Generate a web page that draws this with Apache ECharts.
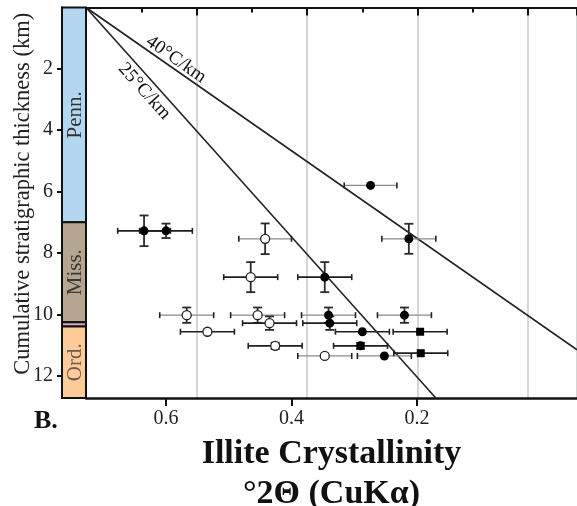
<!DOCTYPE html>
<html><head><meta charset="utf-8">
<script src="https://cdn.jsdelivr.net/npm/echarts@6/dist/echarts.min.js"></script>
<style>html,body{margin:0;padding:0;background:#fff}#c{width:577px;height:506px}</style>
</head><body><div id="c"></div>
<script>
const SERIF = "'Liberation Serif','Times New Roman',serif";

// Stratigraphic column (km)
const unitNames = ['Penn.', 'Miss.', '', 'Ord.'];
const unitTop   = [0, 7.0, 10.26, 10.40];
const unitBase  = [7.0, 10.26, 10.40, 12.73];

// Samples: [illite crystallinity °2θ, cumulative thickness km, ±IC, ±thickness, analysis set]
const filledCircles = [
  [0.635, 7.28, 0.042, 0.50, 1],
  [0.600, 7.28, 0.042, 0.235, 1],
  [0.347, 8.79, 0.043, 0.49, 1],
  [0.274, 5.80, 0.042, 0, 2],
  [0.213, 7.54, 0.043, 0.49, 2],
  [0.341, 10.03, 0.043, 0.25, 2],
  [0.339, 10.29, 0.043, 0.22, 1],
  [0.220, 10.03, 0.043, 0.25, 2],
  [0.287, 10.57, 0.043, 0, 1],
  [0.290, 11.03, 0.043, 0.10, 1],
  [0.252, 11.36, 0.043, 0, 2]
];
const openCircles = [
  [0.442, 7.54, 0.042, 0.50, 2],
  [0.465, 8.79, 0.043, 0.49, 1],
  [0.567, 10.03, 0.043, 0.25, 2],
  [0.454, 10.03, 0.043, 0.25, 2],
  [0.435, 10.29, 0.043, 0.22, 1],
  [0.534, 10.57, 0.043, 0, 1],
  [0.426, 11.03, 0.043, 0.10, 1],
  [0.347, 11.36, 0.043, 0, 2]
];
const filledSquares = [
  [0.195, 10.57, 0.043, 0, 1],
  [0.194, 11.27, 0.043, 0, 1]
];

// Geothermal gradient lines
const geotherm40 = [[0.7275, 0], [-0.055, 11.16]];
const geotherm25 = [[0.7275, 0], [0.170, 12.73]];

const xTicks = [0.6, 0.4, 0.2];
const yTicks = [2, 4, 6, 8, 10, 12];
const X_MIN = -0.055, X_MAX = 0.7275, Y_MAX = 12.73;

const unitColors = ['#b3d7f1', '#b6a68f', '#d4a3c6', '#fdca99'];
const unitText = ['#333', '#3a3a3a', '#333', '#6b5a48'];

const chart = echarts.init(document.getElementById('c'), null, {renderer: 'canvas'});

const allSamples = filledCircles.concat(openCircles, filledSquares);

const option = {
  animation: false,
  backgroundColor: '#fff',
  grid: [
    {left: 62, width: 24, top: 7.5, bottom: 108, outerBoundsMode: 'none', containLabel: false},
    {left: 86, right: 0, top: 7.5, bottom: 108, outerBoundsMode: 'none', containLabel: false}
  ],
  xAxis: [
    { // main bottom axis
      gridIndex: 1, type: 'value', min: X_MIN, max: X_MAX, inverse: true, position: 'bottom',
      axisLine: {show: true, onZero: false, lineStyle: {color: '#111', width: 2.5}},
      axisTick: {show: true, customValues: xTicks, length: 8, lineStyle: {color: '#111', width: 2}},
      axisLabel: {show: true, customValues: xTicks, margin: 11, fontSize: 20, fontFamily: SERIF, color: '#222'},
      splitLine: {show: false},
      name: 'Illite Crystallinity\n\u00b02\u0398 (CuK\u03b1)',
      nameLocation: 'middle', nameGap: 31,
      nameTextStyle: {fontSize: 34, fontWeight: 'bold', fontFamily: SERIF, color: '#111', lineHeight: 40}
    },
    { // top reference axis
      gridIndex: 1, type: 'value', min: 0, max: 4.443, interval: 1, position: 'top',
      axisLine: {show: true, onZero: false, lineStyle: {color: '#111', width: 2}},
      axisTick: {show: true, inside: true, length: 8, lineStyle: {color: '#111', width: 2}},
      minorTick: {show: true, splitNumber: 2, length: 5, lineStyle: {color: '#111', width: 2}},
      axisLabel: {show: false},
      splitLine: {show: true, lineStyle: {color: '#c8c8c8', width: 1.5}}
    },
    { // strip axis
      gridIndex: 0, type: 'value', min: 0, max: 1, show: false
    }
  ],
  yAxis: [
    {
      gridIndex: 0, type: 'value', min: 0, max: Y_MAX, inverse: true,
      axisLine: {show: true, lineStyle: {color: '#111', width: 2}},
      axisTick: {show: true, customValues: yTicks, length: 5, lineStyle: {color: '#111', width: 2}},
      axisLabel: {show: true, customValues: yTicks, margin: 9, fontSize: 20, fontFamily: SERIF, color: '#222'},
      splitLine: {show: false},
      name: 'Cumulative stratigraphic thickness (km)',
      nameLocation: 'middle', nameGap: 27, nameMoveOverlap: false,
      nameTextStyle: {fontSize: 22.5, fontFamily: SERIF, color: '#222', padding: [0, 0, 0, 18]}
    },
    {
      gridIndex: 1, type: 'value', min: 0, max: Y_MAX, inverse: true, show: false
    }
  ],
  series: [
    {
      type: 'custom', name: 'strata', xAxisIndex: 2, yAxisIndex: 0, clip: false, z: 5,
      data: unitTop.map((t, i) => [i, t, unitBase[i], unitNames[i]]),
      encode: {x: 0, y: [1, 2]},
      renderItem(params, api) {
        const i = params.dataIndex;
        const p0 = api.coord([0, api.value(1)]);
        const p1 = api.coord([1, api.value(2)]);
        const children = [{
          type: 'rect',
          shape: {x: p0[0], y: p0[1], width: p1[0] - p0[0], height: p1[1] - p0[1]},
          style: {fill: unitColors[i], stroke: '#111', lineWidth: 2}
        }];
        if (unitNames[i]) {
          children.push({
            type: 'text', x: (p0[0] + p1[0]) / 2 + 1, y: (p0[1] + p1[1]) / 2,
            rotation: Math.PI / 2,
            style: {text: unitNames[i], font: '21px ' + SERIF, fill: unitText[i], align: 'center', verticalAlign: 'middle'}
          });
        }
        return {type: 'group', children};
      }
    },
    {
      type: 'line', name: '40°C/km', xAxisIndex: 0, yAxisIndex: 1, data: geotherm40,
      symbol: 'none', lineStyle: {color: '#222', width: 1.6}, z: 3, silent: true
    },
    {
      type: 'line', name: '25°C/km', xAxisIndex: 0, yAxisIndex: 1, data: geotherm25,
      symbol: 'none', lineStyle: {color: '#222', width: 1.6}, z: 3, silent: true
    },
    {
      type: 'custom', name: 'error bars', xAxisIndex: 0, yAxisIndex: 1, z: 4,
      data: allSamples, encode: {x: 0, y: 1},
      renderItem(params, api) {
        const x = api.value(0), y = api.value(1), ex = api.value(2), ey = api.value(3), set = api.value(4);
        const a = api.coord([x + ex, y]);
        const b = api.coord([x - ex, y]);
        const hc = set === 2 ? '#8a8a8a' : '#1e1e1e';
        const hw = set === 2 ? 1.3 : 1.7;
        const ch = [
          {type: 'line', shape: {x1: a[0], y1: a[1], x2: b[0], y2: b[1]}, style: {stroke: hc, lineWidth: hw}},
          {type: 'line', shape: {x1: a[0], y1: a[1] - 3, x2: a[0], y2: a[1] + 3}, style: {stroke: '#222', lineWidth: 1.6}},
          {type: 'line', shape: {x1: b[0], y1: b[1] - 3, x2: b[0], y2: b[1] + 3}, style: {stroke: '#222', lineWidth: 1.6}}
        ];
        if (ey > 0) {
          const t = api.coord([x, y - ey]);
          const d = api.coord([x, y + ey]);
          ch.push(
            {type: 'line', shape: {x1: t[0], y1: t[1], x2: d[0], y2: d[1]}, style: {stroke: '#2a2a2a', lineWidth: 1.8}},
            {type: 'line', shape: {x1: t[0] - 4.5, y1: t[1], x2: t[0] + 4.5, y2: t[1]}, style: {stroke: '#2a2a2a', lineWidth: 1.8}},
            {type: 'line', shape: {x1: d[0] - 4.5, y1: d[1], x2: d[0] + 4.5, y2: d[1]}, style: {stroke: '#2a2a2a', lineWidth: 1.8}}
          );
        }
        return {type: 'group', children: ch};
      }
    },
    {
      type: 'scatter', name: 'filled', xAxisIndex: 0, yAxisIndex: 1, data: filledCircles, encode: {x: 0, y: 1},
      symbol: 'circle', symbolSize: 9, itemStyle: {color: '#000', opacity: 1}, z: 6
    },
    {
      type: 'scatter', name: 'open', xAxisIndex: 0, yAxisIndex: 1, data: openCircles, encode: {x: 0, y: 1},
      symbol: 'circle', symbolSize: 9, itemStyle: {color: '#fff', borderColor: '#222', borderWidth: 1.3, opacity: 1}, z: 6
    },
    {
      type: 'scatter', name: 'square', xAxisIndex: 0, yAxisIndex: 1, data: filledSquares, encode: {x: 0, y: 1},
      symbol: 'rect', symbolSize: 8, itemStyle: {color: '#000', opacity: 1}, z: 6
    }
  ]
};

chart.setOption(option);

function lineLabel(seriesIndex, seg, t, off, text) {
  const a = chart.convertToPixel({seriesIndex}, seg[0]);
  const b = chart.convertToPixel({seriesIndex}, seg[1]);
  const dx = b[0] - a[0], dy = b[1] - a[1], L = Math.hypot(dx, dy);
  const ux = dx / L, uy = dy / L;
  return {
    type: 'text', x: a[0] + dx * t + uy * off, y: a[1] + dy * t - ux * off,
    rotation: -Math.atan2(dy, dx), z: 20,
    style: {text, font: '19px ' + SERIF, fill: '#111', align: 'center', verticalAlign: 'middle'}
  };
}

chart.setOption({
  graphic: [
    lineLabel(1, geotherm40, 0.173, 9, '40\u00b0C/km'),
    lineLabel(2, geotherm25, 0.1935, -12.5, '25\u00b0C/km'),
    {type: 'text', left: 34, top: 408, z: 20,
     style: {text: 'B.', font: 'bold 26px ' + SERIF, fill: '#111'}}
  ]
});
</script></body></html>
